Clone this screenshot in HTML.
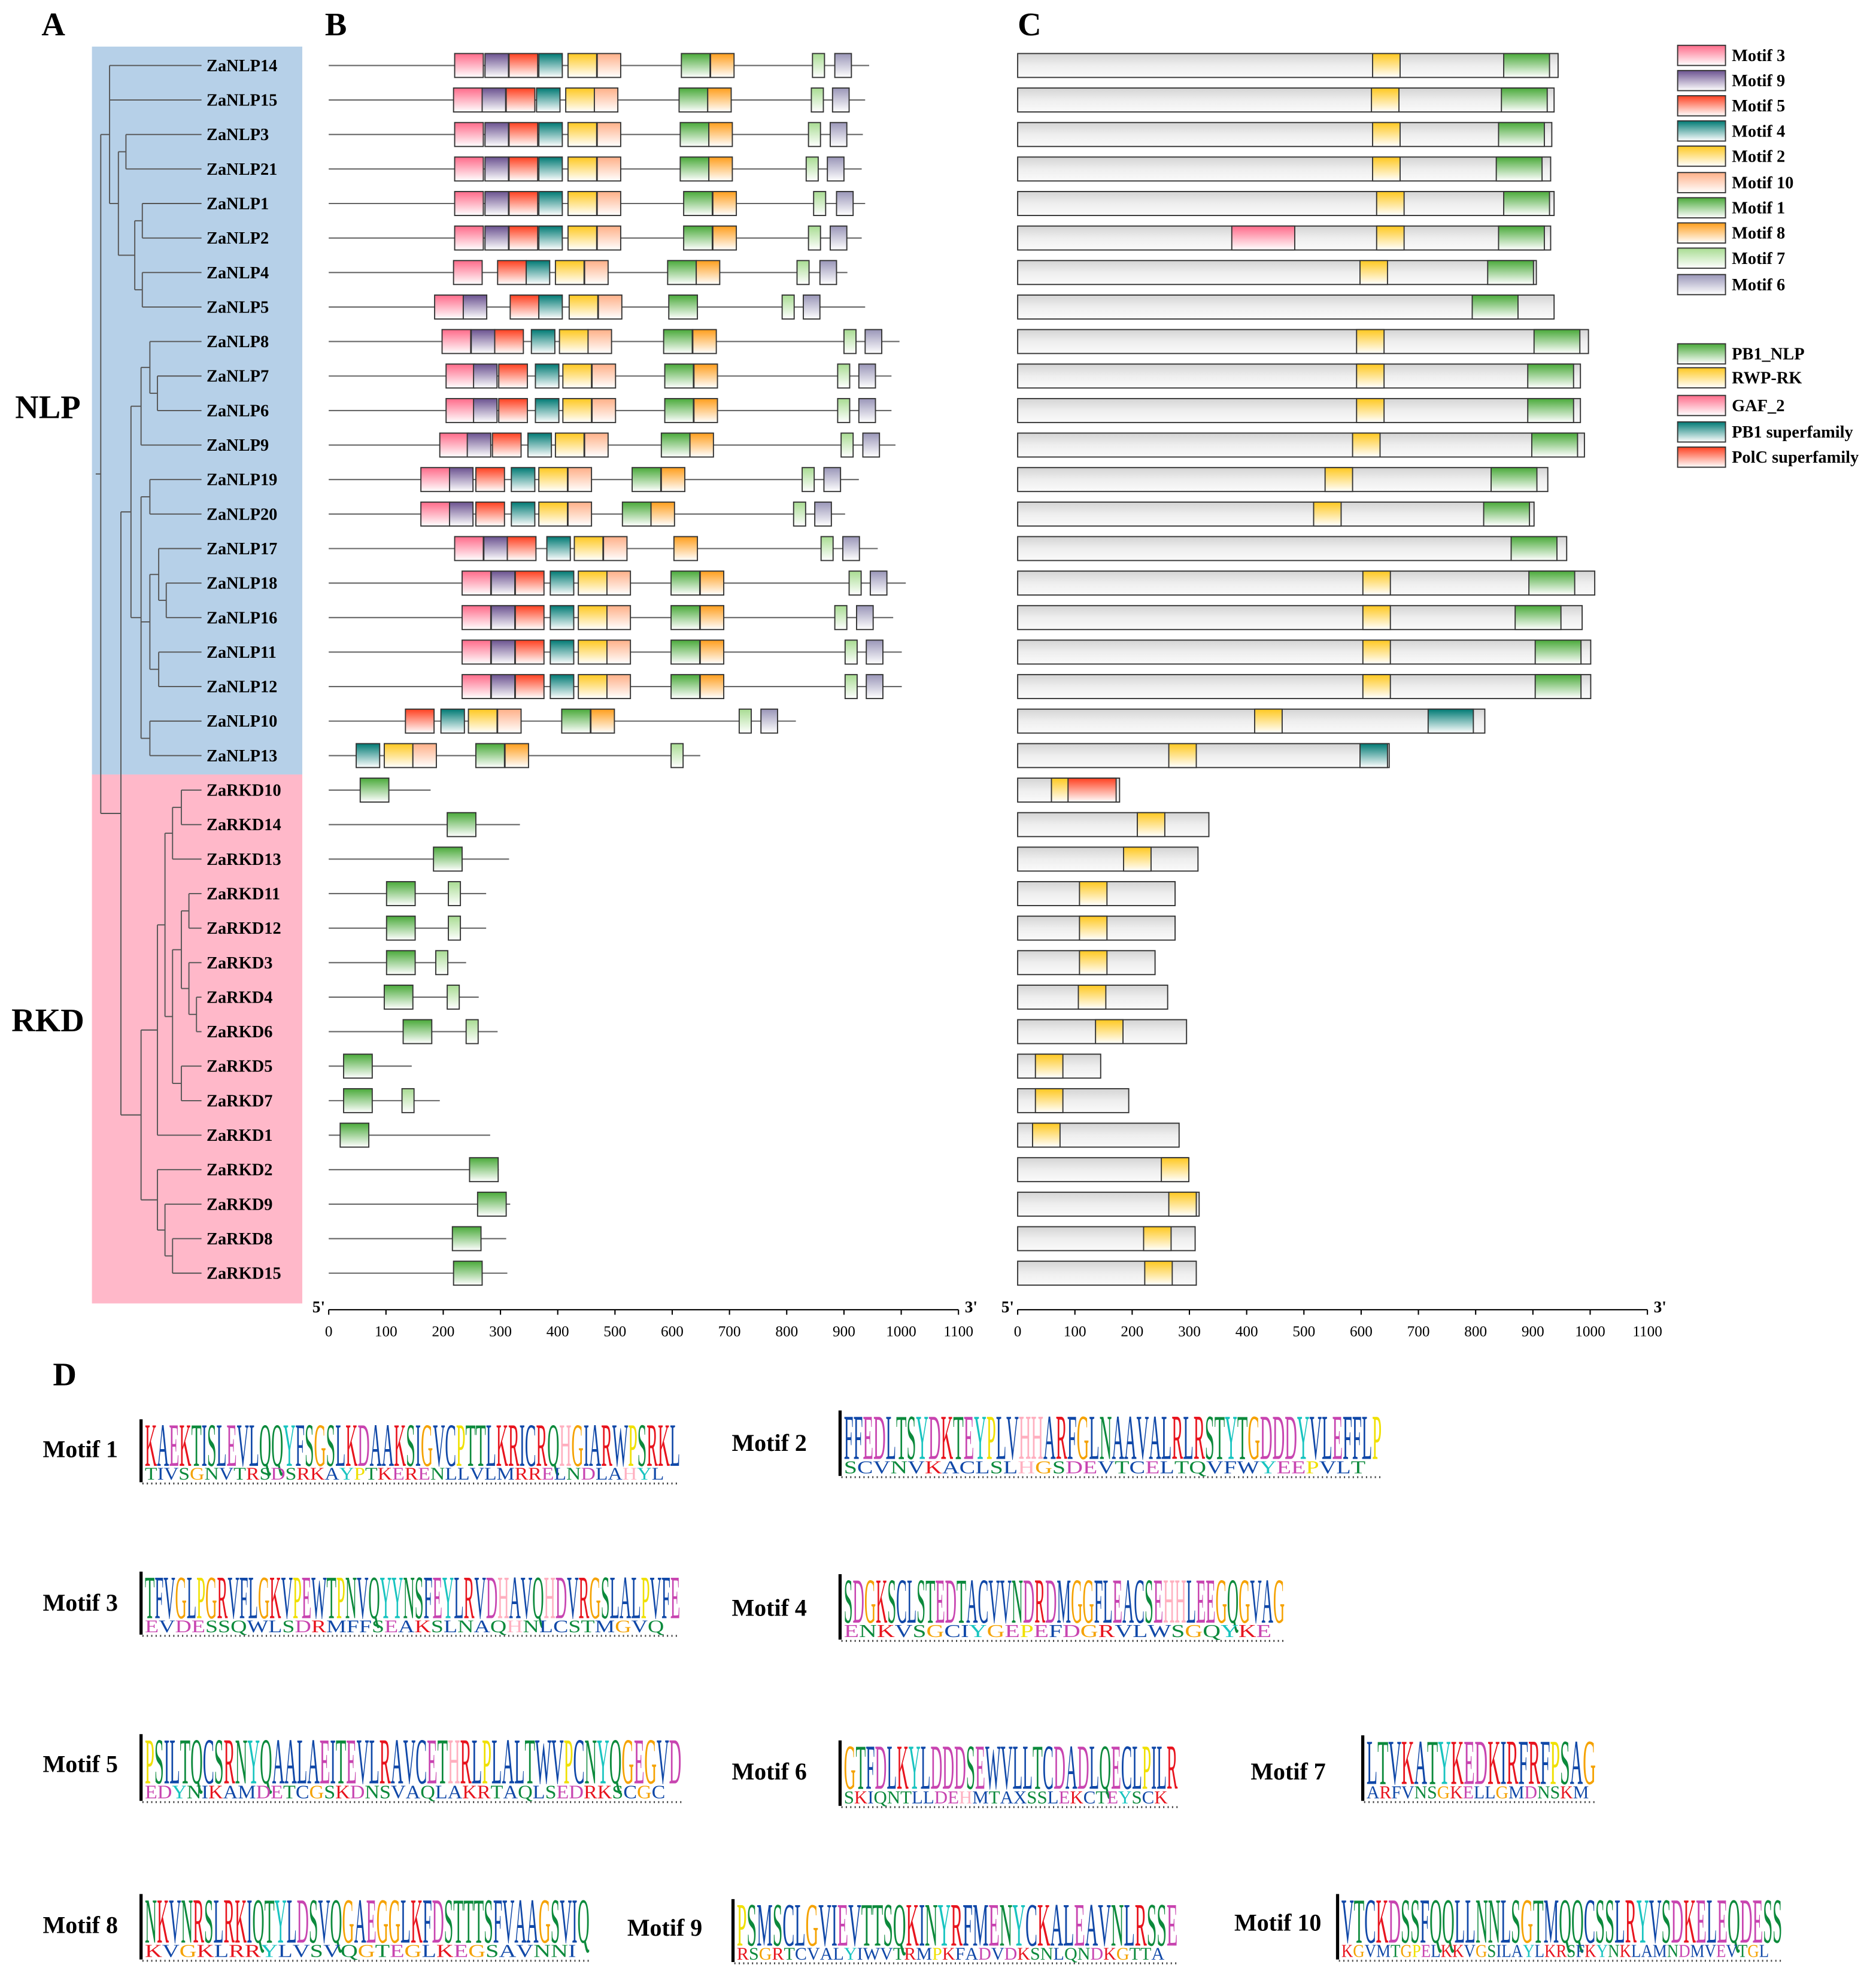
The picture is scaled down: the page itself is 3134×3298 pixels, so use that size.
<!DOCTYPE html>
<html><head><meta charset="utf-8">
<style>
html,body{margin:0;padding:0;background:#fff;}
svg{display:block;}
text{font-family:"Liberation Serif","DejaVu Serif",serif;}
</style></head>
<body>
<svg id="fig" xmlns="http://www.w3.org/2000/svg" width="3134" height="3298" viewBox="0 0 1489.5 1567.5" preserveAspectRatio="none">
<defs id="defs"></defs>
<rect x="73" y="37" width="167" height="578" fill="#b6d0e8"/>
<rect x="73" y="615" width="167" height="420" fill="#ffb8c9"/>
<g font-weight="bold" font-size="26">
<text x="33" y="28">A</text>
<text x="258" y="28">B</text>
<text x="808" y="28">C</text>
<text x="42" y="1100">D</text>
<text x="38" y="332" text-anchor="middle">NLP</text>
<text x="38" y="819" text-anchor="middle">RKD</text>
</g>
<g id="tree"></g>
<g id="labels"></g>
<g id="panelB"></g>
<g id="panelC"></g>
<g id="legend"></g>
<g id="logos"></g>
</svg>
<script>
const genes=["ZaNLP14","ZaNLP15","ZaNLP3","ZaNLP21","ZaNLP1","ZaNLP2","ZaNLP4","ZaNLP5","ZaNLP8","ZaNLP7","ZaNLP6","ZaNLP9","ZaNLP19","ZaNLP20","ZaNLP17","ZaNLP18","ZaNLP16","ZaNLP11","ZaNLP12","ZaNLP10","ZaNLP13","ZaRKD10","ZaRKD14","ZaRKD13","ZaRKD11","ZaRKD12","ZaRKD3","ZaRKD4","ZaRKD6","ZaRKD5","ZaRKD7","ZaRKD1","ZaRKD2","ZaRKD9","ZaRKD8","ZaRKD15"];
const lengths=[944,937,933,931,937,931,906,937,997,983,983,990,926,902,959,1008,986,1001,1001,816,649,178,334,315,275,275,240,262,295,145,194,282,297,317,310,312];
const motifWidths={3:50,9:41,5:50,4:41,2:50,10:41,1:50,8:41,7:21,6:29};
const motifColors={3:"#ff6b8a",9:"#6b5290",5:"#ff4020",4:"#007a74",2:"#ffc820",10:"#ffb088",1:"#4aaa3a",8:"#ff9e1c",7:"#a8dc92",6:"#9a96b8"};
const motifs=[
[[3,220],[9,273],[5,315],[4,367],[2,418],[10,469],[1,616],[8,667],[7,845],[6,884]],
[[3,218],[9,268],[5,310],[4,363],[2,414],[10,464],[1,612],[8,662],[7,843],[6,880]],
[[3,220],[9,273],[5,315],[4,367],[2,418],[10,469],[1,614],[8,664],[7,838],[6,876]],
[[3,220],[9,273],[5,315],[4,367],[2,418],[10,469],[1,614],[8,664],[7,834],[6,871]],
[[3,220],[9,273],[5,315],[4,367],[2,418],[10,469],[1,620],[8,671],[7,847],[6,887]],
[[3,220],[9,273],[5,315],[4,367],[2,418],[10,469],[1,620],[8,671],[7,838],[6,876]],
[[3,218],[5,295],[4,345],[2,396],[10,447],[1,592],[8,642],[7,818],[6,858]],
[[3,185],[9,235],[5,317],[4,367],[2,420],[10,471],[1,594],[7,792],[6,829]],
[[3,198],[9,249],[5,290],[4,354],[2,403],[10,453],[1,585],[8,636],[7,900],[6,937]],
[[3,205],[9,253],[5,297],[4,361],[2,409],[10,460],[1,587],[8,638],[7,889],[6,926]],
[[3,205],[9,253],[5,297],[4,361],[2,409],[10,460],[1,587],[8,638],[7,889],[6,926]],
[[3,194],[9,242],[5,286],[4,348],[2,396],[10,447],[1,581],[8,631],[7,895],[6,933]],
[[3,161],[9,211],[5,257],[4,319],[2,367],[10,418],[1,530],[8,581],[7,827],[6,865]],
[[3,161],[9,211],[5,257],[4,319],[2,367],[10,418],[1,513],[8,563],[7,812],[6,849]],
[[3,220],[9,271],[5,312],[4,381],[2,429],[10,480],[8,603],[7,860],[6,898]],
[[3,233],[9,284],[5,326],[4,387],[2,436],[10,486],[1,598],[8,649],[7,909],[6,946]],
[[3,233],[9,284],[5,326],[4,387],[2,436],[10,486],[1,598],[8,649],[7,884],[6,922]],
[[3,233],[9,284],[5,326],[4,387],[2,436],[10,486],[1,598],[8,649],[7,902],[6,939]],
[[3,233],[9,284],[5,326],[4,387],[2,436],[10,486],[1,598],[8,649],[7,902],[6,939]],
[[5,134],[4,196],[2,244],[10,295],[1,407],[8,458],[7,717],[6,755]],
[[4,48],[2,97],[10,147],[1,257],[8,308],[7,598]],
[[1,55]],[[1,207]],[[1,183]],[[1,101],[7,209]],[[1,101],[7,209]],[[1,101],[7,187]],[[1,97],[7,207]],[[1,130],[7,240]],
[[1,26]],[[1,26],[7,128]],[[1,20]],[[1,246]],[[1,260]],[[1,216]],[[1,218]]
];
const domainColors={P:"#4aaa3a",R:"#ffc820",G:"#ff6b8a",T:"#007a74",C:"#ff4020"};
const domains=[
[["R",620,668],["P",849,929]],[["R",618,666],["P",845,925]],[["R",620,668],["P",840,920]],[["R",620,668],["P",836,916]],
[["R",627,675],["P",849,929]],[["G",374,484],["R",627,675],["P",840,920]],[["R",598,646],["P",821,901]],[["P",794,874]],
[["R",592,640],["P",902,982]],[["R",592,640],["P",891,971]],[["R",592,640],["P",891,971]],[["R",585,633],["P",898,978]],
[["R",537,585],["P",827,907]],[["R",517,565],["P",814,894]],[["P",862,942]],[["R",603,651],["P",893,973]],
[["R",603,651],["P",869,949]],[["R",603,651],["P",904,984]],[["R",603,651],["P",904,984]],[["R",414,462],["T",717,796]],
[["R",264,312],["T",598,646]],[["R",59,107],["C",88,172]],[["R",209,257]],[["R",185,233]],[["R",108,156]],[["R",108,156]],
[["R",108,156]],[["R",106,154]],[["R",136,184]],[["R",31,79]],[["R",31,79]],[["R",26,74]],[["R",251,299]],[["R",264,312]],[["R",220,268]],[["R",222,270]]
];
const tickValues=[0,100,200,300,400,500,600,700,800,900,1000,1100];
const legendMotifs=[3,9,5,4,2,10,1,8,7,6];
const legendDomains=[["P","PB1_NLP"],["R","RWP-RK"],["G","GAF_2"],["T","PB1 superfamily"],["C","PolC superfamily"]];
const tree=[80,[[87,[0,1,[94,[[100,[2,3]],[107,[[113,[4,5]],[113,[6,7]]]]]]]],
 [96,[[104,[[112,[[119,[8,[125,[9,10]]]],11]],[112,[[119,[12,13]],[119,[[126,[14,[132,[15,16]]]],[126,[17,18]]]],[119,[19,20]]]]]],
 [112,[[125,[[131,[[137,[[144,[21,22]],23]],[137,[[144,[[150,[24,25]],[150,[26,[156,[27,28]]]]]],[144,[29,30]]]]]],31]],[125,[32,[131,[33,[137,[34,35]]]]]]]]]]]];

const NS="http://www.w3.org/2000/svg";
const svg=document.getElementById('fig');
function mk(tag,attrs,parent){const e=document.createElementNS(NS,tag);for(const k in attrs)e.setAttribute(k,attrs[k]);if(parent)parent.appendChild(e);return e;}
const rowY=i=>52+i*27.4;
const bX=v=>261+v*500/1100;
const cX=v=>808+v*500/1100;
const defs=document.getElementById('defs');
function grad(id,c){const g=mk('linearGradient',{id:id,x1:0,y1:0,x2:0,y2:1},defs);mk('stop',{offset:'0','stop-color':c},g);mk('stop',{offset:'1','stop-color':'#ffffff'},g);}
for(const k in motifColors)grad('m'+k,motifColors[k]);
for(const k in domainColors)grad('d'+k,domainColors[k]);
const gg=mk('linearGradient',{id:'grey',x1:0,y1:0,x2:0,y2:1},defs);
mk('stop',{offset:'0','stop-color':'#d4d4d4'},gg);mk('stop',{offset:'0.5','stop-color':'#eeeeee'},gg);mk('stop',{offset:'1','stop-color':'#fafafa'},gg);

const treeG=document.getElementById('tree');
function drawNode(n){
  if(typeof n==='number')return rowY(n);
  const x=n[0];const ys=[];
  n[1].forEach(c=>{const y=drawNode(c);const cx=(typeof c==='number')?160:c[0];
    const h=mk('line',{x1:x,y1:y,x2:cx,y2:y,stroke:'#555','stroke-width':0.9},treeG);
    
    
    ys.push(y);});
  const v=mk('line',{x1:x,y1:Math.min(...ys),x2:x,y2:Math.max(...ys),stroke:'#555','stroke-width':0.9},treeG);
  
  
  return (Math.min(...ys)+Math.max(...ys))/2;
}
const ry=drawNode(tree);
mk('line',{x1:76,y1:ry,x2:80,y2:ry,stroke:'#555','stroke-width':0.9},treeG);

const labG=document.getElementById('labels');
const bG=document.getElementById('panelB');
const cG=document.getElementById('panelC');
genes.forEach((g,i)=>{
  const y=rowY(i);
  const t=mk('text',{x:164,y:y+4.5,'font-size':13.5,'font-weight':'bold'},labG);t.textContent=g;
  
  
  const ln=mk('line',{x1:bX(0),y1:y,x2:bX(lengths[i]),y2:y,stroke:'#666','stroke-width':1},bG);
  
  
  motifs[i].forEach(m=>{
    const r=mk('rect',{x:bX(m[1]),y:y-9.5,width:bX(m[1]+motifWidths[m[0]])-bX(m[1]),height:19,fill:'url(#m'+m[0]+')',stroke:'#333','stroke-width':0.9},bG);
    
    
  });
  const bar=mk('rect',{x:cX(0),y:y-9.5,width:cX(lengths[i])-cX(0),height:19,fill:'url(#grey)',stroke:'#333','stroke-width':0.9},cG);
  
  
  domains[i].forEach(d=>{
    const r=mk('rect',{x:cX(d[1]),y:y-9.5,width:cX(d[2])-cX(d[1]),height:19,fill:'url(#d'+d[0]+')',stroke:'#333','stroke-width':0.9},cG);
    
    
  });
});
function axis(sx,name){
  const ag=mk('g',{},svg);
  
  
  mk('line',{x1:sx(0),y1:1040,x2:sx(1100),y2:1040,stroke:'#000','stroke-width':1},ag);
  tickValues.forEach(v=>{mk('line',{x1:sx(v),y1:1040,x2:sx(v),y2:1044,stroke:'#000','stroke-width':1},ag);
    const t=mk('text',{x:sx(v),y:1061,'font-size':12,'text-anchor':'middle'},ag);t.textContent=v;
    
    });
  const a=mk('text',{x:sx(0)-13,y:1042,'font-size':13,'font-weight':'bold'},ag);a.textContent="5'";
  const b=mk('text',{x:sx(1100)+5,y:1042,'font-size':13,'font-weight':'bold'},ag);b.textContent="3'";
}
axis(bX,'panel-b-axis');axis(cX,'panel-c-axis');

const lgG=document.getElementById('legend');
const legY=[44,64,84,104,124,145,165,185,205,226];
legendMotifs.forEach((m,i)=>{
  const r=mk('rect',{x:1332,y:legY[i]-8,width:38,height:16,fill:'url(#m'+m+')',stroke:'#333','stroke-width':0.9},lgG);
  
  
  const t=mk('text',{x:1375,y:legY[i]+4.5,'font-size':13.5,'font-weight':'bold'},lgG);t.textContent='Motif '+m;
  
  
});
const legY2=[281,300,322,343,363];
legendDomains.forEach((d,i)=>{
  const r=mk('rect',{x:1332,y:legY2[i]-8,width:38,height:16,fill:'url(#d'+d[0]+')',stroke:'#333','stroke-width':0.9},lgG);
  
  
  const t=mk('text',{x:1375,y:legY2[i]+4.5,'font-size':13.5,'font-weight':'bold'},lgG);t.textContent=d[1];
  
  
});

const logoSeqs=[
 ["Motif 1",34,1150,113,540,1127,1177,"KAEKTISLEVLQQYFSGSLKDAAKSIGVCPTTLKRICRQHGIARWPSRKL","TIVSGNVTRSDSRKAYPTKERENLLVLMRRELNDLAHYL"],
 ["Motif 2",581,1145,668,1097,1120,1172,"FFEDLTSYDKTEYPLVHHARFGLNAAVALRLRSTYTGDDDYVLEFFLP","SCVNVKACLSLHGSDEVTCELTQVFWYEEPVLT"],
 ["Motif 3",34,1272,113,540,1248,1298,"TFVGLPGRVFLGKVPEWTPNVQYYNSFEYLRVDHAVQHDVRGSLALPVFE","EVDESSQWLSDRMFFSEAKSLNAQHNLCSTMGVQ"],
 ["Motif 4",581,1276,668,1020,1250,1302,"SDGKSCLSTEDTACVVNDRDMGGFLEACSEHHLEEGQGVAG","ENKVSGCIYGEPEFDGRVLWSGQYKE"],
 ["Motif 5",34,1400,113,541,1377,1430,"PSILTQCSRNYQAALAEITEVLRAVCETHRLPLALTWVPCNYQGEGVD","EDYNIKAMDETCGSKDNSVAQLAKRTAQLSEDRKSCGC"],
 ["Motif 6",581,1406,668,935,1382,1434,"GTFDLKYLDDDSEWVLLTCDADLQECLPILR","SKIQNTLLDEHMTAXSSLEKCTEYSCK"],
 ["Motif 7",993,1406,1083,1267,1378,1430,"LTVKATYKEDKIRFRFPSAG","ARFVNSGKELLGMDNSKM"],
 ["Motif 8",34,1528,113,468,1504,1556,"NKVNRSLRKIQTYLDSVQGAEGGLKFDSTTTSFVAAGSVIQ","KVGKLRRYLVSVQGTEGLKEGSAVNNI"],
 ["Motif 9",498,1530,583,935,1508,1558,"PSMSCLGVIEVTTSQKINYRFMENYCKALEAVNLRSSE","RSGRTCVALYIWVTRMPKFADVDKSNLQNDKGTTA"],
 ["Motif 10",980,1526,1063,1415,1504,1556,"VTCKDSSFQQLLNNLSGTMQQCSSLRYVSDKELEQDESS","KGVMTGPELKKVGSILAYLKRSFKYNKLAMNDMVEVTGL"]
];
function aaColor(c){
  if("KR".includes(c))return"#e8141e";
  if("DE".includes(c))return"#c844b0";
  if("STNQ".includes(c))return"#0c8a3c";
  if(c==="G")return"#f5a200";
  if(c==="P")return"#f0e000";
  if("YH".includes(c))return c==="Y"?"#18c4c0":"#ffb0c0";
  return"#1048a8";
}
const lgs=document.getElementById('logos');
logoSeqs.forEach(L=>{
  const g=mk('g',{},lgs);
  
  
  const t=mk('text',{x:L[1],y:L[2]+7,'font-size':19,'font-weight':'bold'},g);t.textContent=L[0];
  
  
  const x0=L[3],x1=L[4],yt=L[5],yb=L[6];
  mk('line',{x1:x0-1,y1:yt,x2:x0-1,y2:yb,stroke:'#000','stroke-width':2.5},g);
  const h=yb-yt;
  const gb=mk('g',{transform:'translate('+(x0+2)+','+(yb-h*0.26)+') scale(1,'+(h*0.72/11)+')'},g);
  const tb=mk('text',{x:0,y:0,'font-size':15,'font-family':'Liberation Sans, sans-serif',textLength:x1-x0-2,lengthAdjust:'spacingAndGlyphs'},gb);
  for(const c of L[7]){const s=mk('tspan',{fill:aaColor(c)},tb);s.textContent=c;}
  const gs=mk('g',{transform:'translate('+(x0+2)+','+(yb-2)+') scale(1,'+(h*0.22/7)+')'},g);
  const ts=mk('text',{x:0,y:0,'font-size':9,'font-family':'Liberation Sans, sans-serif',textLength:(x1-x0-2)*0.97,lengthAdjust:'spacingAndGlyphs'},gs);
  for(const c of L[8]){const s=mk('tspan',{fill:aaColor(c)},ts);s.textContent=c;}
  mk('line',{x1:x0,y1:yb+1,x2:x1,y2:yb+1,stroke:'#444','stroke-width':1.5,'stroke-dasharray':'1 2.5'},g);
});
</script>
</body></html>
